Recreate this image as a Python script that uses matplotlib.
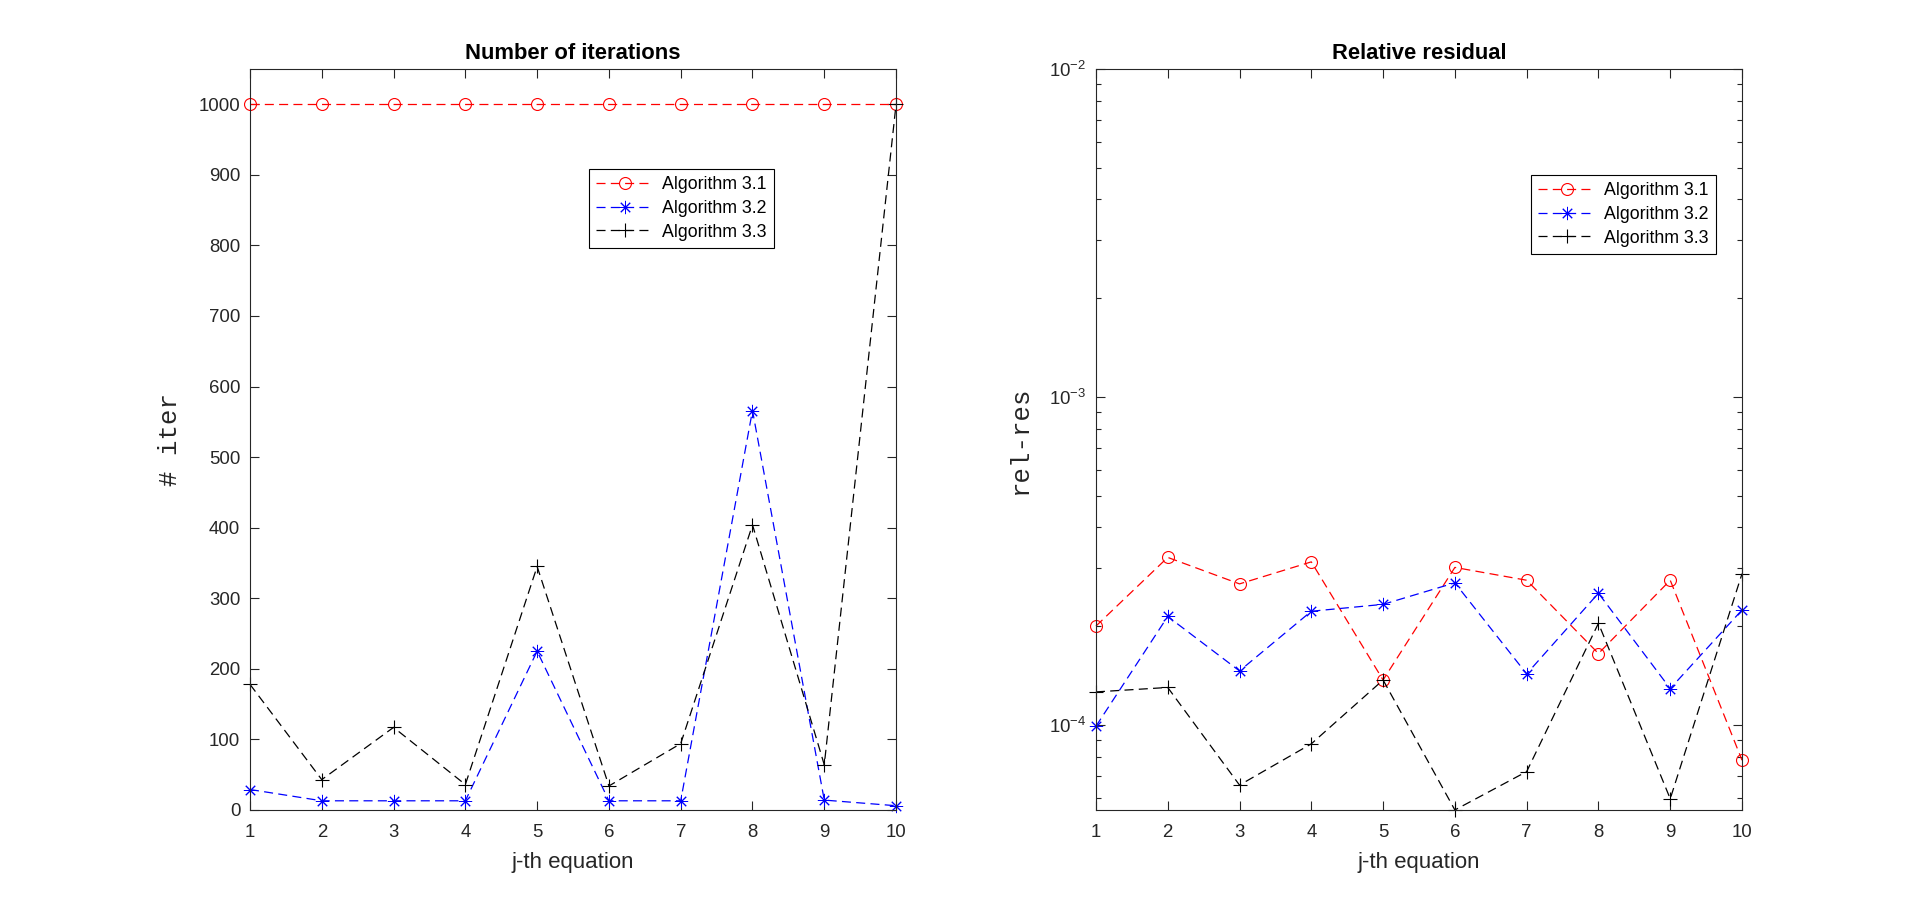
import numpy as np
import matplotlib
matplotlib.use('Agg')
import matplotlib.pyplot as plt
from matplotlib.ticker import LogLocator, FixedLocator, NullFormatter

plt.rcParams['font.family'] = ['Liberation Sans', 'DejaVu Sans']
plt.rcParams['mathtext.fontset'] = 'custom'
plt.rcParams['mathtext.rm'] = 'Liberation Sans'
plt.rcParams['mathtext.default'] = 'regular'
plt.rcParams['lines.scale_dashes'] = False
plt.rcParams['axes.unicode_minus'] = False

# data
equation = [1, 2, 3, 4, 5, 6, 7, 8, 9, 10]
labels = ['Algorithm 3.1', 'Algorithm 3.2', 'Algorithm 3.3']

iter_alg31 = [1000, 1000, 1000, 1000, 1000, 1000, 1000, 1000, 1000, 1000]
iter_alg32 = [29, 13, 13, 13, 225, 13, 13, 566, 14, 6]
iter_alg33 = [178, 43, 117, 36, 345, 34, 94, 404, 64, 1000]

res_alg31 = [2.0e-4, 3.24e-4, 2.69e-4, 3.14e-4, 1.37e-4, 3.02e-4, 2.76e-4, 1.65e-4, 2.76e-4, 7.8e-5]
res_alg32 = [9.9e-5, 2.14e-4, 1.46e-4, 2.22e-4, 2.33e-4, 2.71e-4, 1.43e-4, 2.52e-4, 1.29e-4, 2.24e-4]
res_alg33 = [1.26e-4, 1.30e-4, 6.55e-5, 8.75e-5, 1.37e-4, 5.5e-5, 7.2e-5, 2.04e-4, 5.95e-5, 2.89e-4]

GRAY = '#262626'
DASH = (0, (6.5, 3.8))
ASTER = (8, 2, 0)
styles = [dict(color='red', marker='o', mfc='none', ms=8.6, mew=0.8),
          dict(color='blue', marker=ASTER, ms=9.5, mew=0.7),
          dict(color='black', marker='+', ms=9.5, mew=0.8)]


def style_axes(ax):
    for s in ax.spines.values():
        s.set_color(GRAY)
        s.set_linewidth(0.8)
    ax.tick_params(which='both', direction='in', top=True, right=True,
                   colors=GRAY, labelcolor=GRAY, labelsize=13.4, width=0.8)
    ax.tick_params(which='major', length=6.5)
    ax.tick_params(which='minor', length=3.5)
    ax.tick_params(axis='x', pad=10)
    ax.tick_params(axis='y', pad=7)
    ax.set_xlim(1, 10)
    ax.set_xticks(equation)
    ax.set_xlabel('j-th equation', fontsize=16, color=GRAY, labelpad=8)


def add_legend(ax, fig, pos):
    leg = ax.legend(loc='upper left', bbox_to_anchor=pos, bbox_transform=fig.transFigure,
                    borderaxespad=0, fontsize=12.8, frameon=True, fancybox=False,
                    framealpha=1, edgecolor='black', handlelength=3.2, handletextpad=0.5,
                    labelspacing=0.38, borderpad=0.4, numpoints=1)
    leg.get_frame().set_linewidth(0.8)
    for t in leg.get_texts():
        t.set_color('black')


fig = plt.figure(figsize=(19.2, 9.11), dpi=100)
ax1 = fig.add_axes([0.1302, 0.1109, 0.3365, 0.8134])
ax2 = fig.add_axes([0.5708, 0.1109, 0.3365, 0.8134])

for ys, lab, st in zip([iter_alg31, iter_alg32, iter_alg33], labels, styles):
    ax1.plot(equation, ys, linestyle=DASH, lw=0.9, label=lab, clip_on=False, **st)
style_axes(ax1)
ax1.set_ylim(0, 1050)
ax1.set_yticks(np.arange(0, 1001, 100))
ax1.set_title('Number of iterations', fontsize=15.8, fontweight='bold', pad=7)
ax1.set_ylabel('# iter', fontsize=18.5, family=['Liberation Mono', 'DejaVu Sans Mono'],
               color=GRAY, labelpad=12)
add_legend(ax1, fig, (589 / 1920, 1 - 169 / 911))

for ys, lab, st in zip([res_alg31, res_alg32, res_alg33], labels, styles):
    ax2.semilogy(equation, ys, linestyle=DASH, lw=0.9, label=lab, clip_on=False, **st)
style_axes(ax2)
ax2.set_ylim(min(res_alg31 + res_alg32 + res_alg33), 1e-2)
ax2.yaxis.set_major_locator(FixedLocator([1e-4, 1e-3, 1e-2]))
ax2.yaxis.set_minor_locator(LogLocator(base=10, subs=np.arange(2, 10)))
ax2.yaxis.set_minor_formatter(NullFormatter())
ax2.set_title('Relative residual', fontsize=15.8, fontweight='bold', pad=7)
ax2.set_ylabel('rel-res', fontsize=18.5, family=['Liberation Mono', 'DejaVu Sans Mono'],
               color=GRAY, labelpad=12)
add_legend(ax2, fig, (1531 / 1920, 1 - 175 / 911))

fig.savefig('out.png', dpi=100, facecolor='white')
